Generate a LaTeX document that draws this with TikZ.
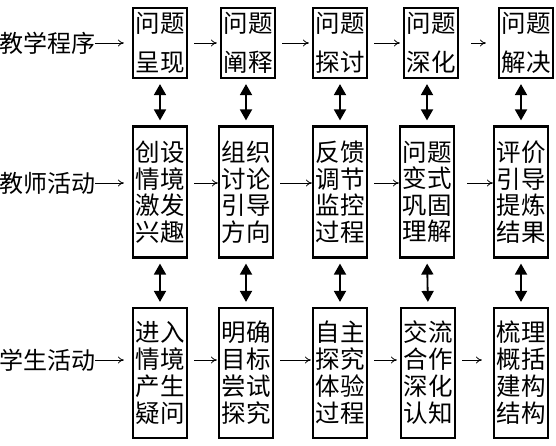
\documentclass[tikz,border=0pt]{standalone}
\usepackage{fontspec}
\newfontfamily\cjk{Noto Sans CJK SC}
\usepackage{tikz}
\usetikzlibrary{positioning, arrows.meta}

\tikzset{
    stage/.style={draw, line width=2.2pt, inner sep=0pt, minimum width=54pt, align=center},
    lbl/.style={inner sep=0pt, anchor=west, font=\cjk\fontsize{24}{26}\selectfont},
    flow/.style={-{To[length=6pt,width=7pt]}, line width=0.8pt},
    link/.style={{Triangle[length=11pt,width=12pt]}-{Triangle[length=11pt,width=12pt]}, line width=1.8pt, shorten <=5pt, shorten >=5pt}
}

\begin{document}
\begin{tikzpicture}[x=1pt, y=-1pt]
    \useasboundingbox (0,0) rectangle (556,446);

    % row labels
    \node[lbl] (lp) at (-1,43) {教学程序};
    \node[lbl] (lt) at (-1,183) {教师活动};
    \node[lbl] (ls) at (-1,360) {学生活动};

    % teaching procedure
    \begin{scope}[every node/.append style={stage, minimum height=70pt, font=\cjk\fontsize{24.5}{39}\selectfont}]
        \node (p1) at (160,43) {问题\\呈现};
        \node (p2) at (248,43) {问题\\阐释};
        \node (p3) at (340,43) {问题\\探讨};
        \node (p4) at (431,43) {问题\\深化};
        \node (p5) at (526,43) {问题\\解决};
    \end{scope}

    % teacher activities
    \begin{scope}[every node/.append style={stage, minimum height=131pt, font=\cjk\fontsize{24.5}{26.5}\selectfont}]
        \node (t1) at (160,192) {创设\\情境\\激发\\兴趣};
        \node (t2) at (246,192) {组织\\讨论\\引导\\方向};
        \node (t3) at (340,192) {反馈\\调节\\监控\\过程};
        \node (t4) at (427,192) {问题\\变式\\巩固\\理解};
        \node (t5) at (521,192) {评价\\引导\\提炼\\结果};
    \end{scope}

    % student activities
    \begin{scope}[every node/.append style={stage, minimum height=130pt, font=\cjk\fontsize{24.5}{27}\selectfont}]
        \node (s1) at (160,373) {进入\\情境\\产生\\疑问};
        \node (s2) at (246,373) {明确\\目标\\尝试\\探究};
        \node (s3) at (340,373) {自主\\探究\\体验\\过程};
        \node (s4) at (428,373) {交流\\合作\\深化\\认知};
        \node (s5) at (521,373) {梳理\\概括\\建构\\结构};
    \end{scope}

    % label arrows
    \draw[flow, shorten >=8pt] (lp.east) -- (lp.east -| p1.west);
    \draw[flow, shorten >=8pt] (lt.east) -- (lt.east -| t1.west);
    \draw[flow, shorten >=8pt] (ls.east) -- (ls.east -| s1.west);

    % flow along each row
    \draw[flow, shorten <=6pt, shorten >=3pt] (p1) -- (p2);
    \draw[flow, shorten <=6pt, shorten >=3pt] (p2) -- (p3);
    \draw[flow, shorten <=6pt, shorten >=3pt] (p3) -- (p4);
    \draw[flow, shorten <=12pt, shorten >=12pt] (p4) -- (p5);

    \draw[flow, shorten <=6pt] (t1.east |- lt.east) -- (t2.west |- lt.east);
    \draw[flow, shorten <=6pt] (t2.east |- lt.east) -- (t3.west |- lt.east);
    \draw[flow, shorten <=6pt] (t3.east |- lt.east) -- (t4.west |- lt.east);
    \draw[flow, shorten <=12pt] (t4.east |- lt.east) -- (t5.west |- lt.east);

    \draw[flow, shorten <=6pt, shorten >=1pt] (s1.east |- ls.east) -- (s2.west |- ls.east);
    \draw[flow, shorten <=6pt, shorten >=1pt] (s2.east |- ls.east) -- (s3.west |- ls.east);
    \draw[flow, shorten <=6pt, shorten >=3pt] (s3.east |- ls.east) -- (s4.west |- ls.east);
    \draw[flow, shorten <=6pt, shorten >=11pt] (s4.east |- ls.east) -- (s5.west |- ls.east);

    % links between the rows
    \draw[link] (p1.south -| t1) -- (t1.north);
    \draw[link] (p2.south -| t2) -- (t2.north);
    \draw[link] (p3.south -| t3) -- (t3.north);
    \draw[link] (p4.south -| t4) -- (t4.north);
    \draw[link] (p5.south -| t5) -- (t5.north);

    \draw[link] (t1.south) -- (s1.north);
    \draw[link] (t2.south) -- (s2.north);
    \draw[link] (t3.south) -- (s3.north);
    \draw[link] (t4.south) -- (s4.north);
    \draw[link] (t5.south) -- (s5.north);
\end{tikzpicture}
\end{document}
